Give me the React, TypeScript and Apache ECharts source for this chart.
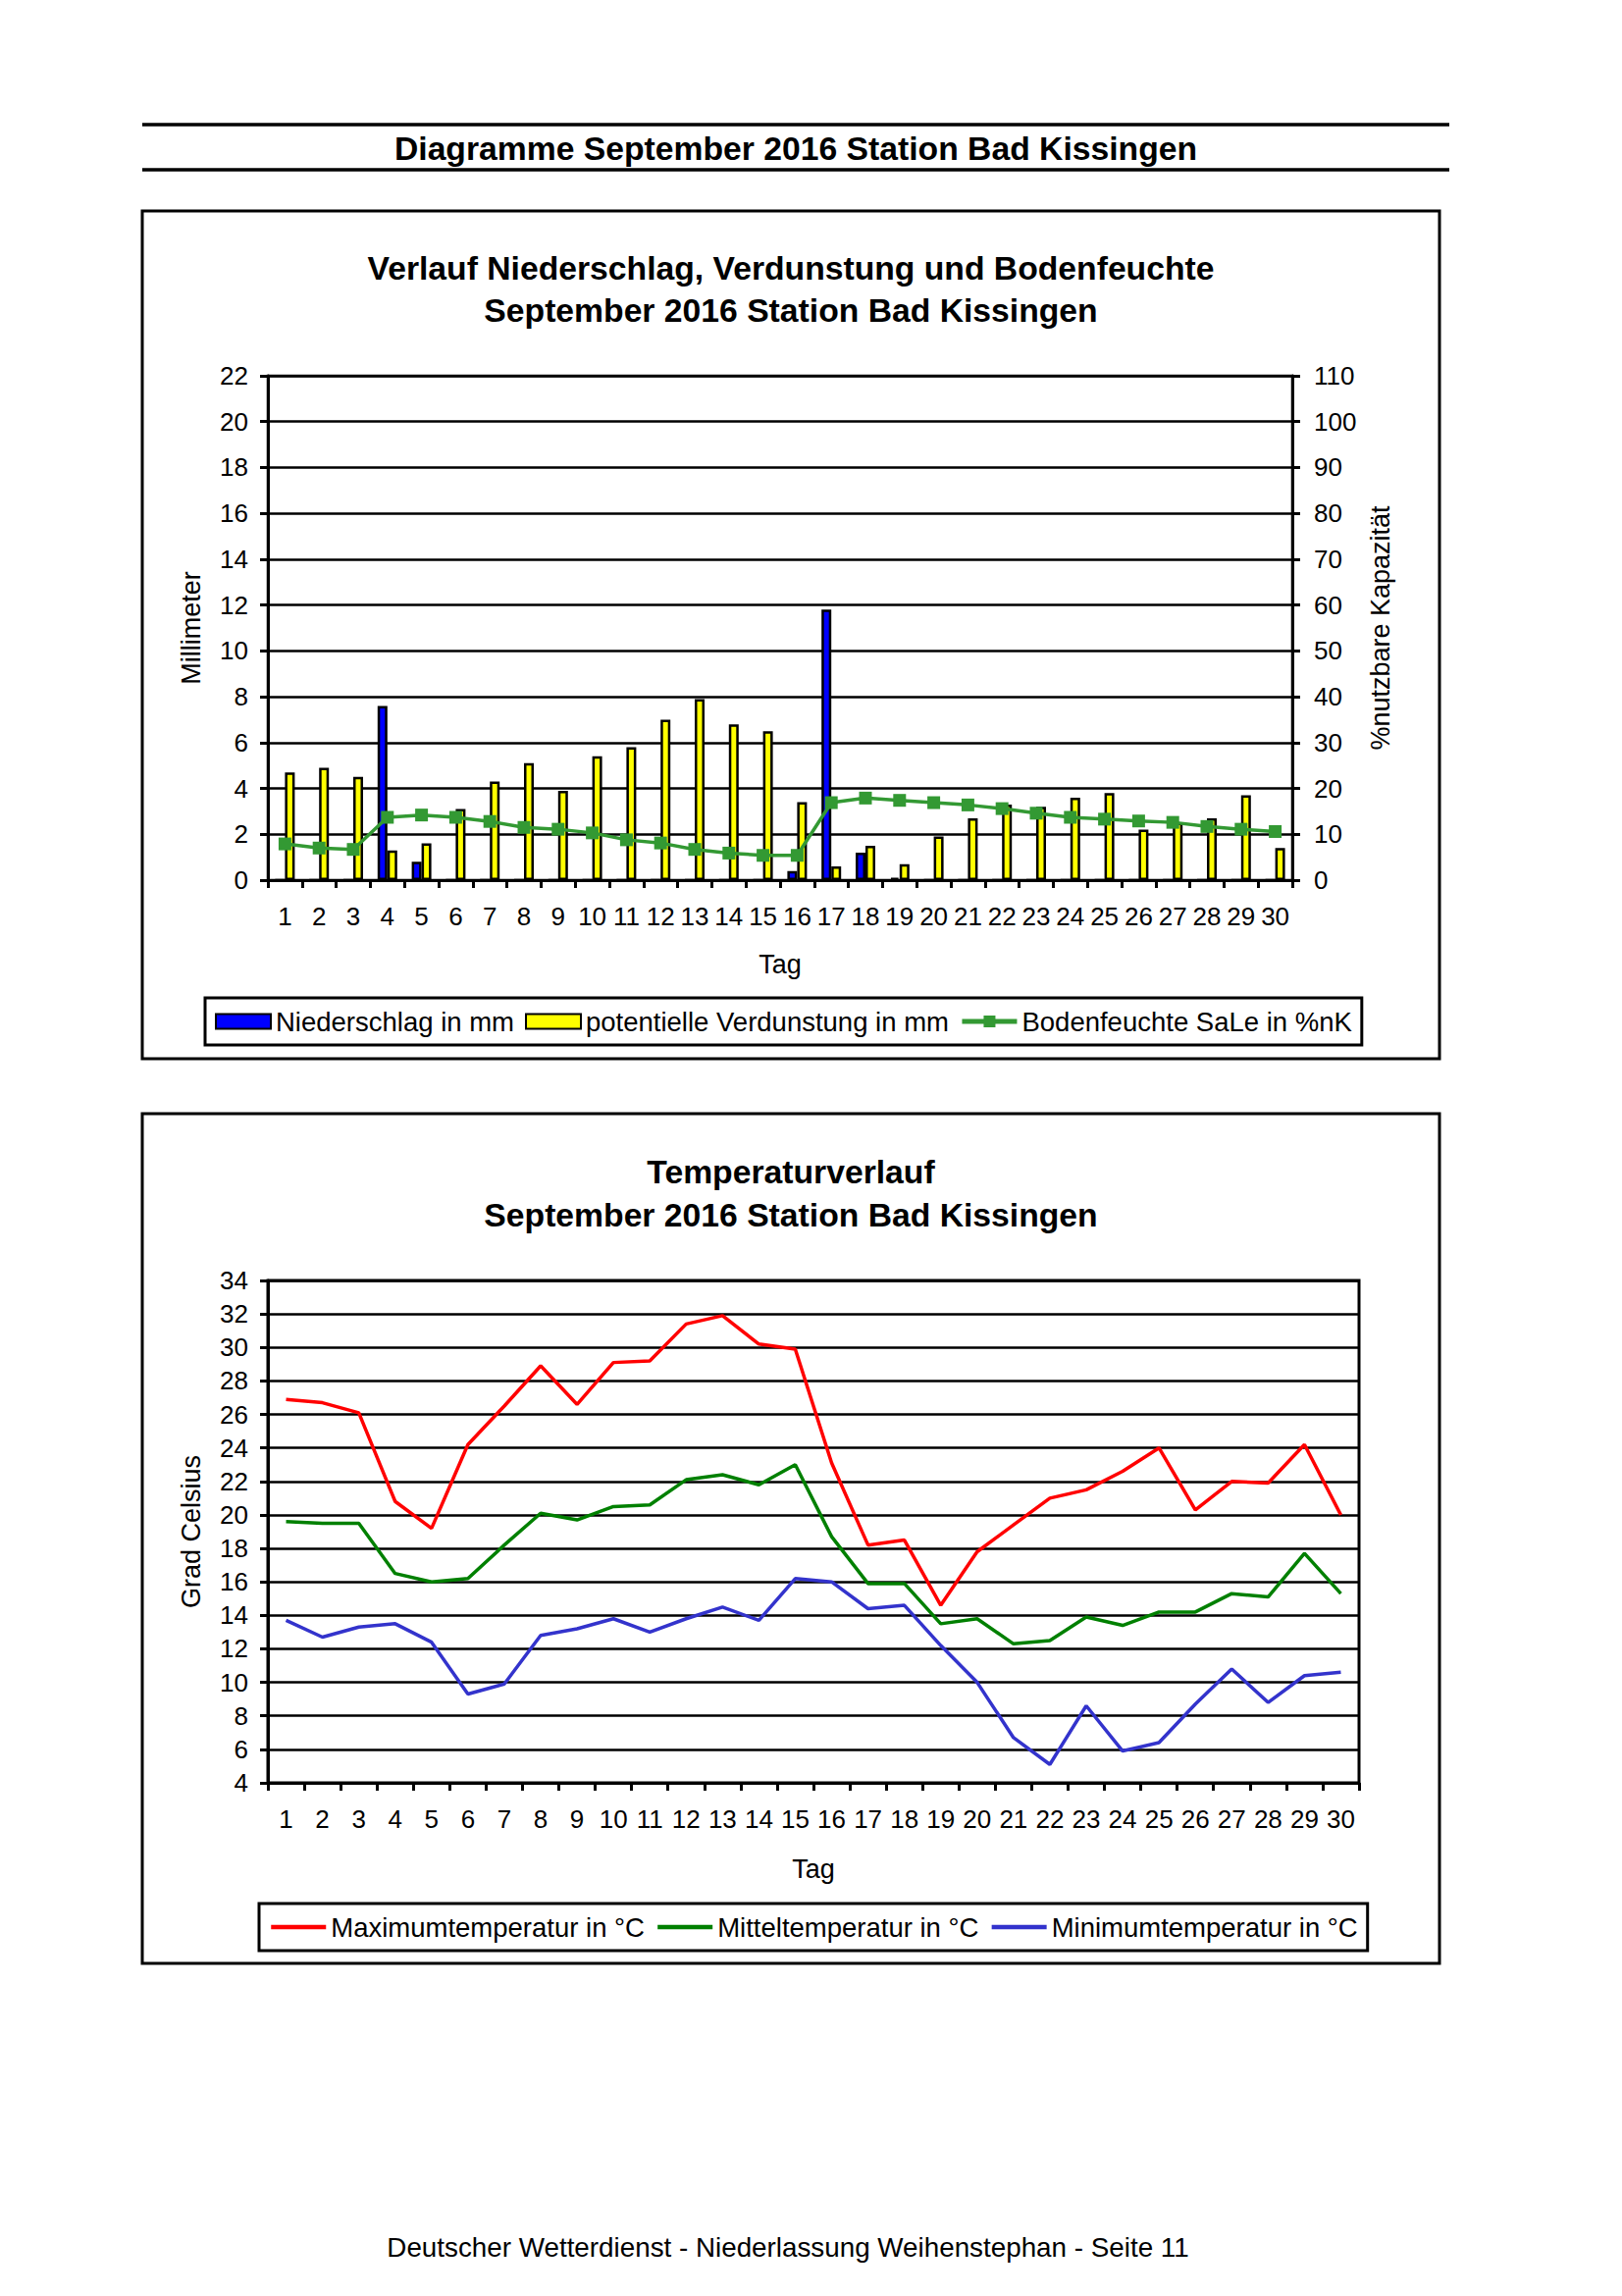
import React, { useEffect, useRef } from "react";
import * as echarts from "echarts";

const days = ["1","2","3","4","5","6","7","8","9","10","11","12","13","14","15","16","17","18","19","20","21","22","23","24","25","26","27","28","29","30"];

// Chart 1 (mm / %nK)
const niederschlag = [0, 0, 0, 7.6, 0.8, 0, 0, 0, 0, 0, 0, 0, 0, 0, 0, 0.4, 11.8, 1.2, 0.1, 0, 0, 0, 0, 0, 0, 0, 0, 0, 0, 0];
const verdunstung = [4.7, 4.9, 4.5, 1.3, 1.6, 3.1, 4.3, 5.1, 3.9, 5.4, 5.8, 7.0, 7.9, 6.8, 6.5, 3.4, 0.6, 1.5, 0.7, 1.9, 2.7, 3.3, 3.2, 3.6, 3.8, 2.2, 2.5, 2.7, 3.7, 1.4];
const bodenfeuchte = [7.9, 7.0, 6.7, 13.7, 14.2, 13.7, 12.8, 11.5, 11.1, 10.3, 8.8, 8.1, 6.7, 5.9, 5.4, 5.4, 16.9, 17.9, 17.4, 16.9, 16.4, 15.6, 14.6, 13.7, 13.3, 12.9, 12.6, 11.7, 11.1, 10.6];

// Chart 2 (°C)
const tMax = [26.9, 26.7, 26.1, 20.8, 19.2, 24.2, 26.5, 28.9, 26.6, 29.1, 29.2, 31.4, 31.9, 30.2, 29.9, 23.1, 18.2, 18.5, 14.6, 17.8, 19.4, 21.0, 21.5, 22.6, 24.0, 20.3, 22.0, 21.9, 24.2, 20.0];
const tMittel = [19.6, 19.5, 19.5, 16.5, 16.0, 16.2, 18.2, 20.1, 19.7, 20.5, 20.6, 22.1, 22.4, 21.8, 23.0, 18.7, 15.9, 15.9, 13.5, 13.8, 12.3, 12.5, 13.9, 13.4, 14.2, 14.2, 15.3, 15.1, 17.7, 15.3];
const tMin = [13.7, 12.7, 13.3, 13.5, 12.4, 9.3, 9.9, 12.8, 13.2, 13.8, 13.0, 13.8, 14.5, 13.7, 16.2, 16.0, 14.4, 14.6, 12.2, 10.0, 6.7, 5.1, 8.6, 5.9, 6.4, 8.7, 10.8, 8.8, 10.4, 10.6];

const FONT = '"Liberation Sans", Arial, sans-serif';

export default function App() {
  const ref = useRef<HTMLDivElement>(null);
  useEffect(() => {
    if (!ref.current) return;
    const chart = echarts.init(ref.current, undefined, { renderer: "svg" });
    const lbl = { color: "#000", fontSize: 26, fontFamily: FONT };
    const nameStyle = { color: "#000", fontSize: 27, fontFamily: FONT };
    const axLine = { show: true, lineStyle: { color: "#000", width: 3 } };
    const tick = { show: true, length: 8, lineStyle: { color: "#000", width: 3 } };
    const split = { show: true, lineStyle: { color: "#000", width: 2.5 } };
    const txt = (text: string, x: number, y: number, size: number, bold: boolean) => ({
      type: "text",
      x,
      y,
      style: {
        text,
        fill: "#000",
        font: `${bold ? "bold " : ""}${size}px ${FONT}`,
        textAlign: "center",
        textVerticalAlign: "middle",
        verticalAlign: "middle",
      },
    });
    const option: any = {
      animation: false,
      backgroundColor: "#fff",
      textStyle: { fontFamily: FONT },
      graphic: [
        { type: "line", shape: { x1: 145, y1: 127, x2: 1477, y2: 127 }, style: { stroke: "#000", lineWidth: 3.5 } },
        { type: "line", shape: { x1: 145, y1: 173, x2: 1477, y2: 173 }, style: { stroke: "#000", lineWidth: 3.5 } },
        txt("Diagramme September 2016 Station Bad Kissingen", 811, 151, 33.7, true),
        { type: "rect", shape: { x: 145, y: 215, width: 1322, height: 864 }, style: { fill: "none", stroke: "#000", lineWidth: 3 } },
        txt("Verlauf Niederschlag, Verdunstung und Bodenfeuchte", 806, 273, 33.7, true),
        txt("September 2016 Station Bad Kissingen", 806, 316, 33.7, true),
        { type: "rect", shape: { x: 145, y: 1135, width: 1322, height: 866 }, style: { fill: "none", stroke: "#000", lineWidth: 3 } },
        txt("Temperaturverlauf", 806, 1194, 33.7, true),
        txt("September 2016 Station Bad Kissingen", 806, 1238, 33.7, true),
        txt("Deutscher Wetterdienst - Niederlassung Weihenstephan - Seite 11", 803, 2290, 27.8, false),
      ],
      grid: [
        { left: 273, top: 383, width: 1044, height: 514, show: true, borderColor: "#000", borderWidth: 2.5, backgroundColor: "#fff" },
        { left: 273, top: 1305, width: 1112, height: 512, show: true, borderColor: "#000", borderWidth: 3, backgroundColor: "#fff" },
      ],
      legend: [
        {
          left: 209, top: 1017, orient: "horizontal", selectedMode: false,
          data: [
            { name: "Niederschlag in mm", icon: "rect" },
            { name: "potentielle Verdunstung in mm", icon: "rect" },
            { name: "Bodenfeuchte SaLe in %nK" },
          ],
          borderColor: "#000", borderWidth: 3, padding: [10, 10], backgroundColor: "#fff",
          itemWidth: 56, itemHeight: 15, itemGap: 11,
          lineStyle: { width: 5 },
          textStyle: { color: "#000", fontSize: 27.5, fontFamily: FONT },
        },
        {
          left: 264, top: 1940, orient: "horizontal", selectedMode: false,
          data: ["Maximumtemperatur in °C", "Mitteltemperatur in °C", "Minimumtemperatur in °C"],
          borderColor: "#000", borderWidth: 3, padding: [10, 10], backgroundColor: "#fff",
          itemWidth: 56, itemHeight: 15, itemGap: 11,
          itemStyle: { opacity: 0 },
          lineStyle: { width: 4.5, opacity: 1 },
          textStyle: { color: "#000", fontSize: 27.5, fontFamily: FONT },
        },
      ],
      xAxis: [
        {
          type: "category", gridIndex: 0, data: days, boundaryGap: true,
          axisLine: axLine, axisTick: tick, axisLabel: { ...lbl, margin: 24, interval: 0 },
          name: "Tag", nameLocation: "middle", nameGap: 72, nameTextStyle: nameStyle,
          splitLine: { show: false },
        },
        {
          type: "category", gridIndex: 1, data: days, boundaryGap: true,
          axisLine: axLine, axisTick: tick, axisLabel: { ...lbl, margin: 24, interval: 0 },
          name: "Tag", nameLocation: "middle", nameGap: 74, nameTextStyle: nameStyle,
          splitLine: { show: false },
        },
      ],
      yAxis: [
        {
          type: "value", gridIndex: 0, min: 0, max: 22, interval: 2, position: "left",
          axisLine: axLine, axisTick: tick, axisLabel: { ...lbl, margin: 20 }, splitLine: split,
          name: "Millimeter", nameLocation: "middle", nameGap: 65, nameRotate: 90, nameTextStyle: nameStyle,
        },
        {
          type: "value", gridIndex: 0, min: 0, max: 110, interval: 10, position: "right",
          axisLine: axLine, axisTick: tick, axisLabel: { ...lbl, margin: 22 }, splitLine: { show: false },
          name: "%nutzbare Kapazität", nameLocation: "middle", nameGap: 76, nameRotate: 90, nameTextStyle: nameStyle,
        },
        {
          type: "value", gridIndex: 1, min: 4, max: 34, interval: 2, position: "left",
          axisLine: axLine, axisTick: tick, axisLabel: { ...lbl, margin: 20 }, splitLine: split,
          name: "Grad Celsius", nameLocation: "middle", nameGap: 65, nameRotate: 90, nameTextStyle: nameStyle,
        },
      ],
      series: [
        {
          name: "Niederschlag in mm", type: "bar", xAxisIndex: 0, yAxisIndex: 0, data: niederschlag,
          barWidth: 10, barGap: "0%",
          itemStyle: { color: "#0000FF", borderColor: "#000", borderWidth: 2.5 },
        },
        {
          name: "potentielle Verdunstung in mm", type: "bar", xAxisIndex: 0, yAxisIndex: 0, data: verdunstung,
          barWidth: 10, barGap: "0%",
          itemStyle: { color: "#FFFF00", borderColor: "#000", borderWidth: 2.5 },
        },
        {
          name: "Bodenfeuchte SaLe in %nK", type: "line", xAxisIndex: 0, yAxisIndex: 1, data: bodenfeuchte,
          symbol: "rect", symbolSize: 13, showSymbol: true,
          itemStyle: { color: "#339933" }, lineStyle: { color: "#339933", width: 3.5 },
        },
        {
          name: "Maximumtemperatur in °C", type: "line", xAxisIndex: 1, yAxisIndex: 2, data: tMax,
          symbol: "none", itemStyle: { color: "#FF0000" }, lineStyle: { color: "#FF0000", width: 3.5 },
        },
        {
          name: "Mitteltemperatur in °C", type: "line", xAxisIndex: 1, yAxisIndex: 2, data: tMittel,
          symbol: "none", itemStyle: { color: "#008000" }, lineStyle: { color: "#008000", width: 3.5 },
        },
        {
          name: "Minimumtemperatur in °C", type: "line", xAxisIndex: 1, yAxisIndex: 2, data: tMin,
          symbol: "none", itemStyle: { color: "#3333CC" }, lineStyle: { color: "#3333CC", width: 3.5 },
        },
      ],
    };
    chart.setOption(option);
    return () => chart.dispose();
  }, []);
  return (
    <div
      ref={ref}
      style={{ position: "absolute", left: 0, top: 0, width: 1653, height: 2340, background: "#fff" }}
    />
  );
}
